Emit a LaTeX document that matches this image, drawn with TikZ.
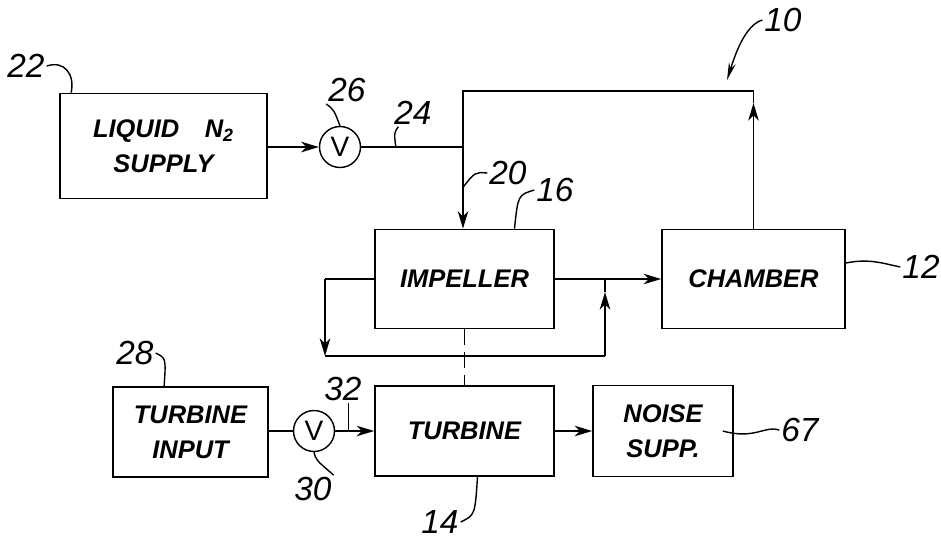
\documentclass[tikz,border=0pt]{standalone}
\usepackage{fontspec}
\setsansfont{Liberation Sans}
\usetikzlibrary{arrows.meta, positioning, calc}

\begin{document}
\begin{tikzpicture}[x=0.02cm, y=-0.02cm,
    block/.style={draw, line width=1pt, align=center, inner sep=0pt,
                  font=\sffamily\itshape\bfseries\fontsize{14.5}{20}\selectfont},
    valve/.style={draw, circle, line width=0.8pt, minimum size=0.82cm, inner sep=0pt,
                  font=\sffamily\fontsize{16}{16}\selectfont},
    num/.style={font=\sffamily\itshape\fontsize{19}{19}\selectfont, inner sep=1pt},
    pipe/.style={line width=1pt},
    flow/.style={pipe, -{Stealth[length=10pt, width=6pt, inset=3pt]}},
    lead/.style={line width=0.8pt}]
    \useasboundingbox (0,0) rectangle (941,539);
    % supply side
    \node[block, minimum width=4.14cm, minimum height=2.1cm] (liquid) at (163.5,146) {LIQUID\quad N\textsubscript{2}\\SUPPLY};
    \node[valve] (v26) at (340,147) {V};
    \coordinate (j24) at (463,147);
    \coordinate (tl) at (463,91);
    % impeller and chamber
    \node[block, minimum width=3.58cm, minimum height=1.98cm] (imp) at (464.5,279) {IMPELLER};
    \node[block, minimum width=3.66cm, minimum height=1.98cm] (chamber) at (753.5,279) {CHAMBER};
    \coordinate (tr) at (chamber.north |- tl);
    \coordinate (tup) at ($(tr)+(0,12)$);
    % recirculation loop
    \coordinate (lp1) at (325,279);
    \coordinate (lp2) at (325,356);
    \coordinate (lp3) at (605,356);
    \coordinate (lp4) at (605,292);
    \coordinate (jr) at (605,279);
    % turbine side
    \node[block, minimum width=3.1cm, minimum height=1.8cm] (tin) at (190.5,432) {TURBINE\\INPUT};
    \node[valve] (v30) at (314,431) {V};
    \node[block, minimum width=3.58cm, minimum height=1.8cm] (turb) at (464.5,431) {TURBINE};
    \node[block, minimum width=2.8cm, minimum height=1.82cm] (noise) at (663,431) {NOISE\\SUPP.};
    \coordinate (p24) at ($(v26.east)!0.34!(j24)$);
    \coordinate (p32) at ($(v30.east)!0.34!(turb.west)$);

    \draw[flow] (liquid.east |- v26) -- (v26.west);
    \draw[pipe] (v26.east) -- (j24);
    \draw[pipe] (j24) -- (tl) -- (tr) -- (tup);
    \draw[flow] (tl) -- (tl |- imp.north);
    \draw[flow] (chamber.north) -- (tup);
    \draw[flow] (imp.east) -- (chamber.west);
    \draw[pipe] (imp.west) -- (lp1);
    \draw[flow] (lp1) -- (lp2);
    \draw[pipe] (lp2) -- (lp3);
    \draw[flow] (lp3) -- (lp4);
    \draw[pipe] (lp4) -- (jr);
    \draw[pipe, dash pattern=on 9pt off 4pt] (imp.south) -- (turb.north);
    \draw[pipe] (tin.east |- v30) -- (v30.west);
    \draw[flow] (v30.east) -- (turb.west);
    \draw[flow] (turb.east) -- (noise.west);

    % reference numerals
    \node[num] (n22) at (26,66) {22};
    \node[num] (n26) at (347,90) {26};
    \node[num] (n24) at (413,113) {24};
    \node[num] (n10) at (783,20) {10};
    \node[num] (n20) at (508,173) {20};
    \node[num] (n16) at (555,190) {16};
    \node[num] (n12) at (921,267) {12};
    \node[num] (n28) at (135,353) {28};
    \node[num] (n32) at (343,389) {32};
    \node[num] (n30) at (313,489) {30};
    \node[num] (n14) at (440,522) {14};
    \node[num] (n67) at (800,430) {67};

    \draw[lead] (n22.east) .. controls (65,60) and (75,75) .. ($(liquid.north west)+(12,0)$);
    \draw[lead] (n26.south west) .. controls (334,110) .. (v26.north);
    \draw[lead] (p24) .. controls (394,133) .. ($(n24.south west)+(6,0)$);
    \draw[lead, -{Stealth[length=10pt, width=4pt]}] (n10.west) .. controls (745,25) and (735,55) .. (727,80);
    \draw[lead] (n20.west) .. controls (475,172) .. ($(tl)!0.7!(tl |- imp.north)$);
    \draw[lead] (n16.west) .. controls (518,195) .. ($(imp.north)+(50,0)$);
    \draw[lead] (chamber.east |- 0,263) .. controls (870,258) and (885,264) .. (n12.west);
    \draw[lead] (n28.east) .. controls (166,358) .. ($(tin.north west)+(52,0)$);
    \draw[lead] (p32) -- (p32 |- n32.south);
    \draw[lead] (v30.south) .. controls (316,460) .. (n30.north east);
    \draw[lead] (n14.east) .. controls (475,515) .. ($(turb.south)+(13,0)$);
    \draw[lead] ($(noise.east)+(-11,0)$) .. controls (755,440) and (765,425) .. (n67.west);
\end{tikzpicture}
\end{document}
